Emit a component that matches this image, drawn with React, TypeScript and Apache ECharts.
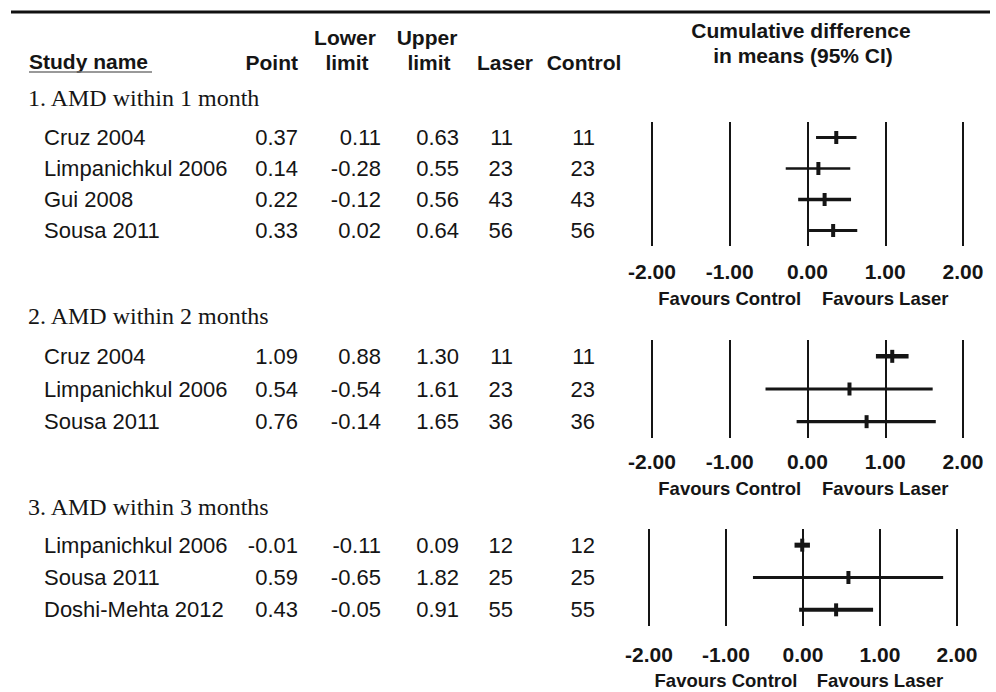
import React, { useEffect, useRef } from "react";
import * as echarts from "echarts";

// ---------- data ----------
const sectionTitles = ["1. AMD within 1 month", "2. AMD within 2 months", "3. AMD within 3 months"];

const studies1 = ["Cruz 2004", "Limpanichkul 2006", "Gui 2008", "Sousa 2011"];
const point1 = [0.37, 0.14, 0.22, 0.33];
const lower1 = [0.11, -0.28, -0.12, 0.02];
const upper1 = [0.63, 0.55, 0.56, 0.64];
const laser1 = [11, 23, 43, 56];
const control1 = [11, 23, 43, 56];

const studies2 = ["Cruz 2004", "Limpanichkul 2006", "Sousa 2011"];
const point2 = [1.09, 0.54, 0.76];
const lower2 = [0.88, -0.54, -0.14];
const upper2 = [1.3, 1.61, 1.65];
const laser2 = [11, 23, 36];
const control2 = [11, 23, 36];

const studies3 = ["Limpanichkul 2006", "Sousa 2011", "Doshi-Mehta 2012"];
const point3 = [-0.01, 0.59, 0.43];
const lower3 = [-0.11, -0.65, -0.05];
const upper3 = [0.09, 1.82, 0.91];
const laser3 = [12, 25, 55];
const control3 = [12, 25, 55];

const axisMin = -2;
const axisMax = 2;
const axisStep = 1;
const favoursLeft = "Favours Control";
const favoursRight = "Favours Laser";
const favoursLeftAt = -1;
const favoursRightAt = 1;

// ---------- styles / layout ----------
const barWidths = [
  [3, 2.6, 3.4, 3],
  [4.5, 3, 3.2],
  [5, 3, 4],
];

const panels = [
  { left: 652, width: 311, top: 122, height: 124, titleY: 98, labelMargin: 15, favY: 298 },
  { left: 652, width: 311, top: 340, height: 98, titleY: 316, labelMargin: 13, favY: 488 },
  { left: 649, width: 308, top: 529, height: 97, titleY: 507, labelMargin: 18, favY: 680 },
];

const SANS = "'Liberation Sans', Arial, Helvetica, sans-serif";
const SERIF = "'Liberation Serif', 'Times New Roman', serif";
const INK = "#151515";

const colName = 44;
const colPoint = 298;
const colLower = 381;
const colUpper = 459;
const colLaser = 513;
const colControl = 595;

const sections = [
  { names: studies1, point: point1, lower: lower1, upper: upper1, laser: laser1, control: control1 },
  { names: studies2, point: point2, lower: lower2, upper: upper2, laser: laser2, control: control2 },
  { names: studies3, point: point3, lower: lower3, upper: upper3, laser: laser3, control: control3 },
];

function txt(text: string, x: number, y: number, opts: any = {}) {
  return {
    type: "text",
    x,
    y,
    silent: true,
    style: {
      text,
      fill: INK,
      font: opts.font || `22px ${SANS}`,
      align: opts.align || "left",
      verticalAlign: "middle",
    },
  };
}

export default function App() {
  const ref = useRef<HTMLDivElement>(null);

  useEffect(() => {
    if (!ref.current) return;
    const chart = echarts.init(ref.current, undefined, { renderer: "svg" });

    const graphics: any[] = [];
    // top rule
    graphics.push({
      type: "line",
      silent: true,
      shape: { x1: 11, y1: 12, x2: 990, y2: 12 },
      style: { stroke: "#111", lineWidth: 3 },
    });
    const hb = `bold 21px ${SANS}`;
    graphics.push(txt("Study name", 29, 61, { font: hb }));
    graphics.push({
      type: "line",
      silent: true,
      shape: { x1: 29, y1: 72, x2: 152, y2: 72 },
      style: { stroke: "#777", lineWidth: 1.5 },
    });
    graphics.push(txt("Point", 298, 62, { font: hb, align: "right" }));
    graphics.push(txt("Lower", 345, 37, { font: hb, align: "center" }));
    graphics.push(txt("limit", 347, 62, { font: hb, align: "center" }));
    graphics.push(txt("Upper", 427, 37, { font: hb, align: "center" }));
    graphics.push(txt("limit", 429, 62, { font: hb, align: "center" }));
    graphics.push(txt("Laser", 505, 62, { font: hb, align: "center" }));
    graphics.push(txt("Control", 584, 62, { font: hb, align: "center" }));
    graphics.push(txt("Cumulative difference", 801, 30, { font: hb, align: "center" }));
    graphics.push(txt("in means (95% CI)", 803, 55, { font: hb, align: "center" }));

    const series: any[] = [];
    const grids: any[] = [];
    const xAxes: any[] = [];
    const yAxes: any[] = [];

    sections.forEach((sec, i) => {
      const p = panels[i];
      const n = sec.names.length;
      const rowH = p.height / n;
      graphics.push(txt(sectionTitles[i], 28, p.titleY, { font: `24px ${SERIF}` }));
      sec.names.forEach((name, j) => {
        const y = p.top + rowH * (j + 0.5);
        graphics.push(txt(name, colName, y));
        graphics.push(txt(sec.point[j].toFixed(2), colPoint, y, { align: "right" }));
        graphics.push(txt(sec.lower[j].toFixed(2), colLower, y, { align: "right" }));
        graphics.push(txt(sec.upper[j].toFixed(2), colUpper, y, { align: "right" }));
        graphics.push(txt(String(sec.laser[j]), colLaser, y, { align: "right" }));
        graphics.push(txt(String(sec.control[j]), colControl, y, { align: "right" }));
      });
      const toPx = (v: number) => p.left + ((v - axisMin) / (axisMax - axisMin)) * p.width;
      graphics.push(txt(favoursLeft, toPx(favoursLeftAt), p.favY, { font: `bold 18.5px ${SANS}`, align: "center" }));
      graphics.push(txt(favoursRight, toPx(favoursRightAt), p.favY, { font: `bold 18.5px ${SANS}`, align: "center" }));

      grids.push({ left: p.left, top: p.top, width: p.width, height: p.height, containLabel: false });
      xAxes.push({
        type: "value",
        gridIndex: i,
        min: axisMin,
        max: axisMax,
        interval: axisStep,
        axisLine: { show: false },
        axisTick: { show: false },
        splitLine: { show: true, showMinLine: true, showMaxLine: true, lineStyle: { color: INK, width: 2 } },
        axisLabel: {
          margin: p.labelMargin,
          color: INK,
          fontFamily: SANS,
          fontWeight: "bold",
          fontSize: 21,
          formatter: (v: number) => v.toFixed(2),
        },
      });
      yAxes.push({
        type: "value",
        gridIndex: i,
        min: -0.5,
        max: n - 0.5,
        inverse: true,
        show: false,
        splitLine: { show: false },
      });
      const widths = barWidths[i];
      series.push({
        type: "custom",
        xAxisIndex: i,
        yAxisIndex: i,
        encode: { x: [0, 1, 2], y: 3 },
        data: sec.names.map((_, j) => [sec.lower[j], sec.upper[j], sec.point[j], j]),
        renderItem: (params: any, api: any) => {
          const row = api.value(3);
          const lo = api.coord([api.value(0), row]);
          const hi = api.coord([api.value(1), row]);
          const pt = api.coord([api.value(2), row]);
          const w = widths[params.dataIndex] || 3;
          return {
            type: "group",
            children: [
              {
                type: "line",
                shape: { x1: lo[0], y1: lo[1], x2: hi[0], y2: hi[1] },
                style: { stroke: INK, lineWidth: w },
              },
              {
                type: "line",
                shape: { x1: pt[0], y1: pt[1] - 6.5, x2: pt[0], y2: pt[1] + 6.5 },
                style: { stroke: INK, lineWidth: 4 },
              },
            ],
          };
        },
      });
    });

    chart.setOption({
      animation: false,
      backgroundColor: "#ffffff",
      grid: grids,
      xAxis: xAxes,
      yAxis: yAxes,
      series,
      graphic: graphics,
    });

    return () => chart.dispose();
  }, []);

  return (
    <div
      ref={ref}
      style={{ position: "absolute", left: 0, top: 0, width: 996, height: 692, background: "#fff" }}
    />
  );
}
